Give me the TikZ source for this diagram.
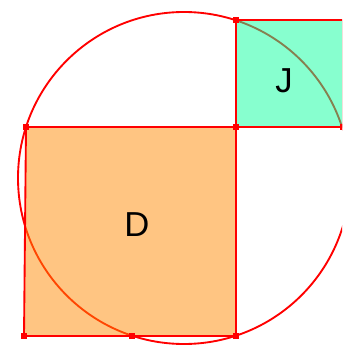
\documentclass[tikz,border=0pt]{standalone}
\usepackage{fontspec}
\setmainfont{Liberation Sans}
\usetikzlibrary{positioning}
\definecolor{dfill}{RGB}{255,140,5}
\definecolor{jfill}{RGB}{15,255,160}

\begin{document}
\begin{tikzpicture}[
    x=0.75pt, y=-0.75pt,
    edge/.style={red, line width=1.4pt},
    dot/.style={rectangle, fill=red, inner sep=0pt, minimum size=4pt},
    area/.style={font=\fontsize{26}{30}\selectfont, inner sep=0pt}
]
    \useasboundingbox (0,0) rectangle (342,345);
    \clip (0,0) rectangle (342,345);

    % corners of the two squares
    \coordinate (d1) at (26,127);
    \coordinate (d2) at (236,127);
    \coordinate (d3) at (236,336);
    \coordinate (d4) at (24,336);
    \coordinate (m) at (132,336);
    \coordinate (j1) at (236,20);
    \coordinate (j2) at (343,20);
    \coordinate (j3) at (343,127);
    \coordinate (o) at (184,178);

    \draw[edge] (o) circle[radius=166];

    \fill[dfill, fill opacity=0.5] (d1) -- (d2) -- (d3) -- (d4) -- cycle;
    \fill[jfill, fill opacity=0.5] (j1) -- (j2) -- (j3) -- (d2) -- cycle;

    \draw[edge] (d1) -- (d2) -- (d3) -- (d4) -- cycle;
    \draw[edge] (j1) -- (j2) -- (j3) -- (d2) -- cycle;

    \foreach \p in {d1, d2, d3, d4, m, j1, j3}
        \node[dot] at (\p) {};

    \node[area] (labD) at (137,225) {D};
    \node[area] (labJ) at (284,81) {J};
\end{tikzpicture}
\end{document}
